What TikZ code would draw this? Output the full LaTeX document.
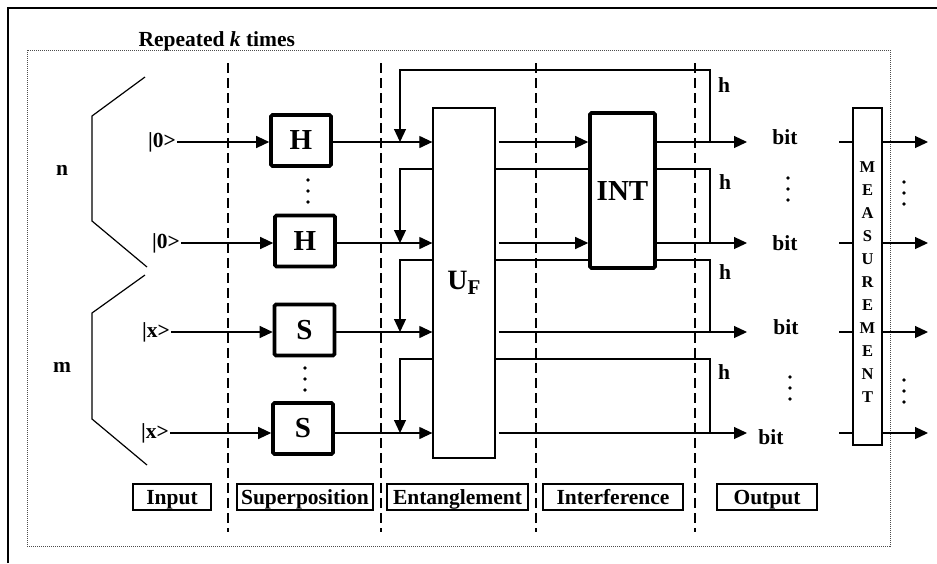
\documentclass[tikz,border=0pt]{standalone}
\usepackage{fontspec}
\setmainfont{Liberation Serif}
\usepackage{tikz}
\usetikzlibrary{arrows.meta,positioning,calc}

\begin{document}
\begin{tikzpicture}[
  x=1pt,y=-1pt,
  font=\fontsize{21.5}{24}\selectfont\bfseries,
  line width=1.2pt,
  arr/.style={-{Triangle[length=13pt,width=12pt]}},
  gate/.style={draw,line width=3.6pt,rounded corners=1.5pt,minimum width=60pt,minimum height=51pt,font=\fontsize{29}{30}\selectfont\bfseries},
  ufbox/.style={draw,line width=1.3pt,minimum width=62pt,minimum height=350pt,font=\fontsize{28}{30}\selectfont\bfseries},
  measbox/.style={draw,line width=1.3pt,minimum width=29pt,minimum height=337pt,inner sep=0pt,font=\fontsize{16.5}{23}\selectfont\bfseries},
  stage/.style={draw,line width=1.3pt,text height=18pt,text depth=3pt,inner sep=2.5pt},
  lbl/.style={inner sep=1pt},
  dotmark/.style={circle,fill,inner sep=0pt,minimum size=3.6pt},
  stagesep/.style={dash pattern=on 10pt off 5pt,line width=1.3pt},
  loopframe/.style={dash pattern=on 1pt off 1pt,line width=0.9pt,black!70}
]
\useasboundingbox (0,0) rectangle (937,563);
\draw (8,563) -- (8,8) -- (937,8);
\draw[loopframe] (27,50) rectangle (890,546);
\node[anchor=base west,inner sep=0pt] (rep) at (138,46) {Repeated \textit{k} times};
\foreach \x in {228,381,536,695} \draw[stagesep] (\x,63) -- (\x,532);

\node (n) at (62,170) {n};
\draw (145,77) -- (92,116) -- (92,221) -- (147,267);
\node (m) at (62,367) {m};
\draw (145,275) -- (92,313) -- (92,419) -- (147,465);

\node[lbl] (k1) at (162,142) {|0>};
\node[lbl] (k2) at (166,243) {|0>};
\node[lbl] (k3) at (156,332) {|x>};
\node[lbl] (k4) at (155,433) {|x>};

\node[gate] (h1) at (301,140.5) {H};
\node[gate] (h2) at (305,241) {H};
\node[gate] (s1) at (304.5,330) {S};
\node[gate] (s2) at (303,428.5) {S};
\node[ufbox] (uf) at (464,283) {U\raisebox{-5pt}{\fontsize{21}{21}\selectfont F}};
\node[gate,minimum width=65pt,minimum height=155pt] (int) at (622.5,190.5) {INT};
\node[measbox] (meas) at (867.5,276.5)
  {\raisebox{-10.5pt}[0pt][0pt]{\begin{tabular}{@{}c@{}}M\\E\\A\\S\\U\\R\\E\\M\\E\\N\\T\end{tabular}}};

\coordinate (lx) at (400,0);
\coordinate (rx) at (710,0);
\coordinate (ax) at (747,0);
\coordinate (mx) at (839,0);
\coordinate (ox) at (928,0);
\coordinate (f2) at (0,169);
\coordinate (f3) at (0,260);
\coordinate (f4) at (0,359);

\draw[arr] (k1.east) -- (k1.east -| h1.west);
\draw[arr] (k2.east) -- (k2.east -| h2.west);
\draw[arr] (k3.east) -- (k3.east -| s1.west);
\draw[arr] (k4.east) -- (k4.east -| s2.west);
\draw[arr] (h1.east |- k1) -- (uf.west |- k1);
\draw[arr] (h2.east |- k2) -- (uf.west |- k2);
\draw[arr] (s1.east |- k3) -- (uf.west |- k3);
\draw[arr] (s2.east |- k4) -- (uf.west |- k4);

\draw[arr,shorten <=3pt] (uf.east |- k1) -- (int.west |- k1);
\draw[arr,shorten <=3pt] (uf.east |- k2) -- (int.west |- k2);
\draw[arr,shorten <=3pt] (uf.east |- k3) -- (ax |- k3);
\draw[arr,shorten <=3pt] (uf.east |- k4) -- (ax |- k4);
\draw[arr] (int.east |- k1) -- (ax |- k1);
\draw[arr] (int.east |- k2) -- (ax |- k2);

\draw[arr] (rx |- k1) -- ++(0,-72) -| (lx |- k1);
\draw[arr] (uf.west |- f2) -| (lx |- k2);
\draw (uf.east |- f2) -- (int.west |- f2);
\draw (int.east |- f2) -| (rx |- k2);
\draw[arr] (uf.west |- f3) -| (lx |- k3);
\draw (uf.east |- f3) -- (int.west |- f3);
\draw (int.east |- f3) -| (rx |- k3);
\draw[arr] (uf.west |- f4) -| (lx |- k4);
\draw (uf.east |- f4) -| (rx |- k4);

\node (fb1) at (724,85) {h};
\node (fb2) at (725,182) {h};
\node (fb3) at (725,272) {h};
\node (fb4) at (724,372) {h};
\node (bit1) at (785,137) {bit};
\node (bit2) at (785,243) {bit};
\node (bit3) at (786,327) {bit};
\node (bit4) at (771,437) {bit};

\foreach \k in {k1,k2,k3,k4} {
  \draw (mx |- \k) -- (meas.west |- \k);
  \draw[arr] (meas.east |- \k) -- (ox |- \k);
}
\foreach \x/\y [count=\j] in {308/180,305/368,788/178,790/377,904/182,904/380}
  \foreach \i in {0,1,2} \node[dotmark] (d\j\i) at (\x,\y+11*\i) {};

\node[stage,minimum width=78pt] (input) at (172,497) {Input};
\node[stage,minimum width=136pt] (super) at (305,497) {Superposition};
\node[stage,minimum width=141pt] (ent) at (457.5,497) {Entanglement};
\node[stage,minimum width=140pt] (inter) at (613,497) {Interference};
\node[stage,minimum width=100pt] (out) at (767,497) {Output};
\end{tikzpicture}
\end{document}
